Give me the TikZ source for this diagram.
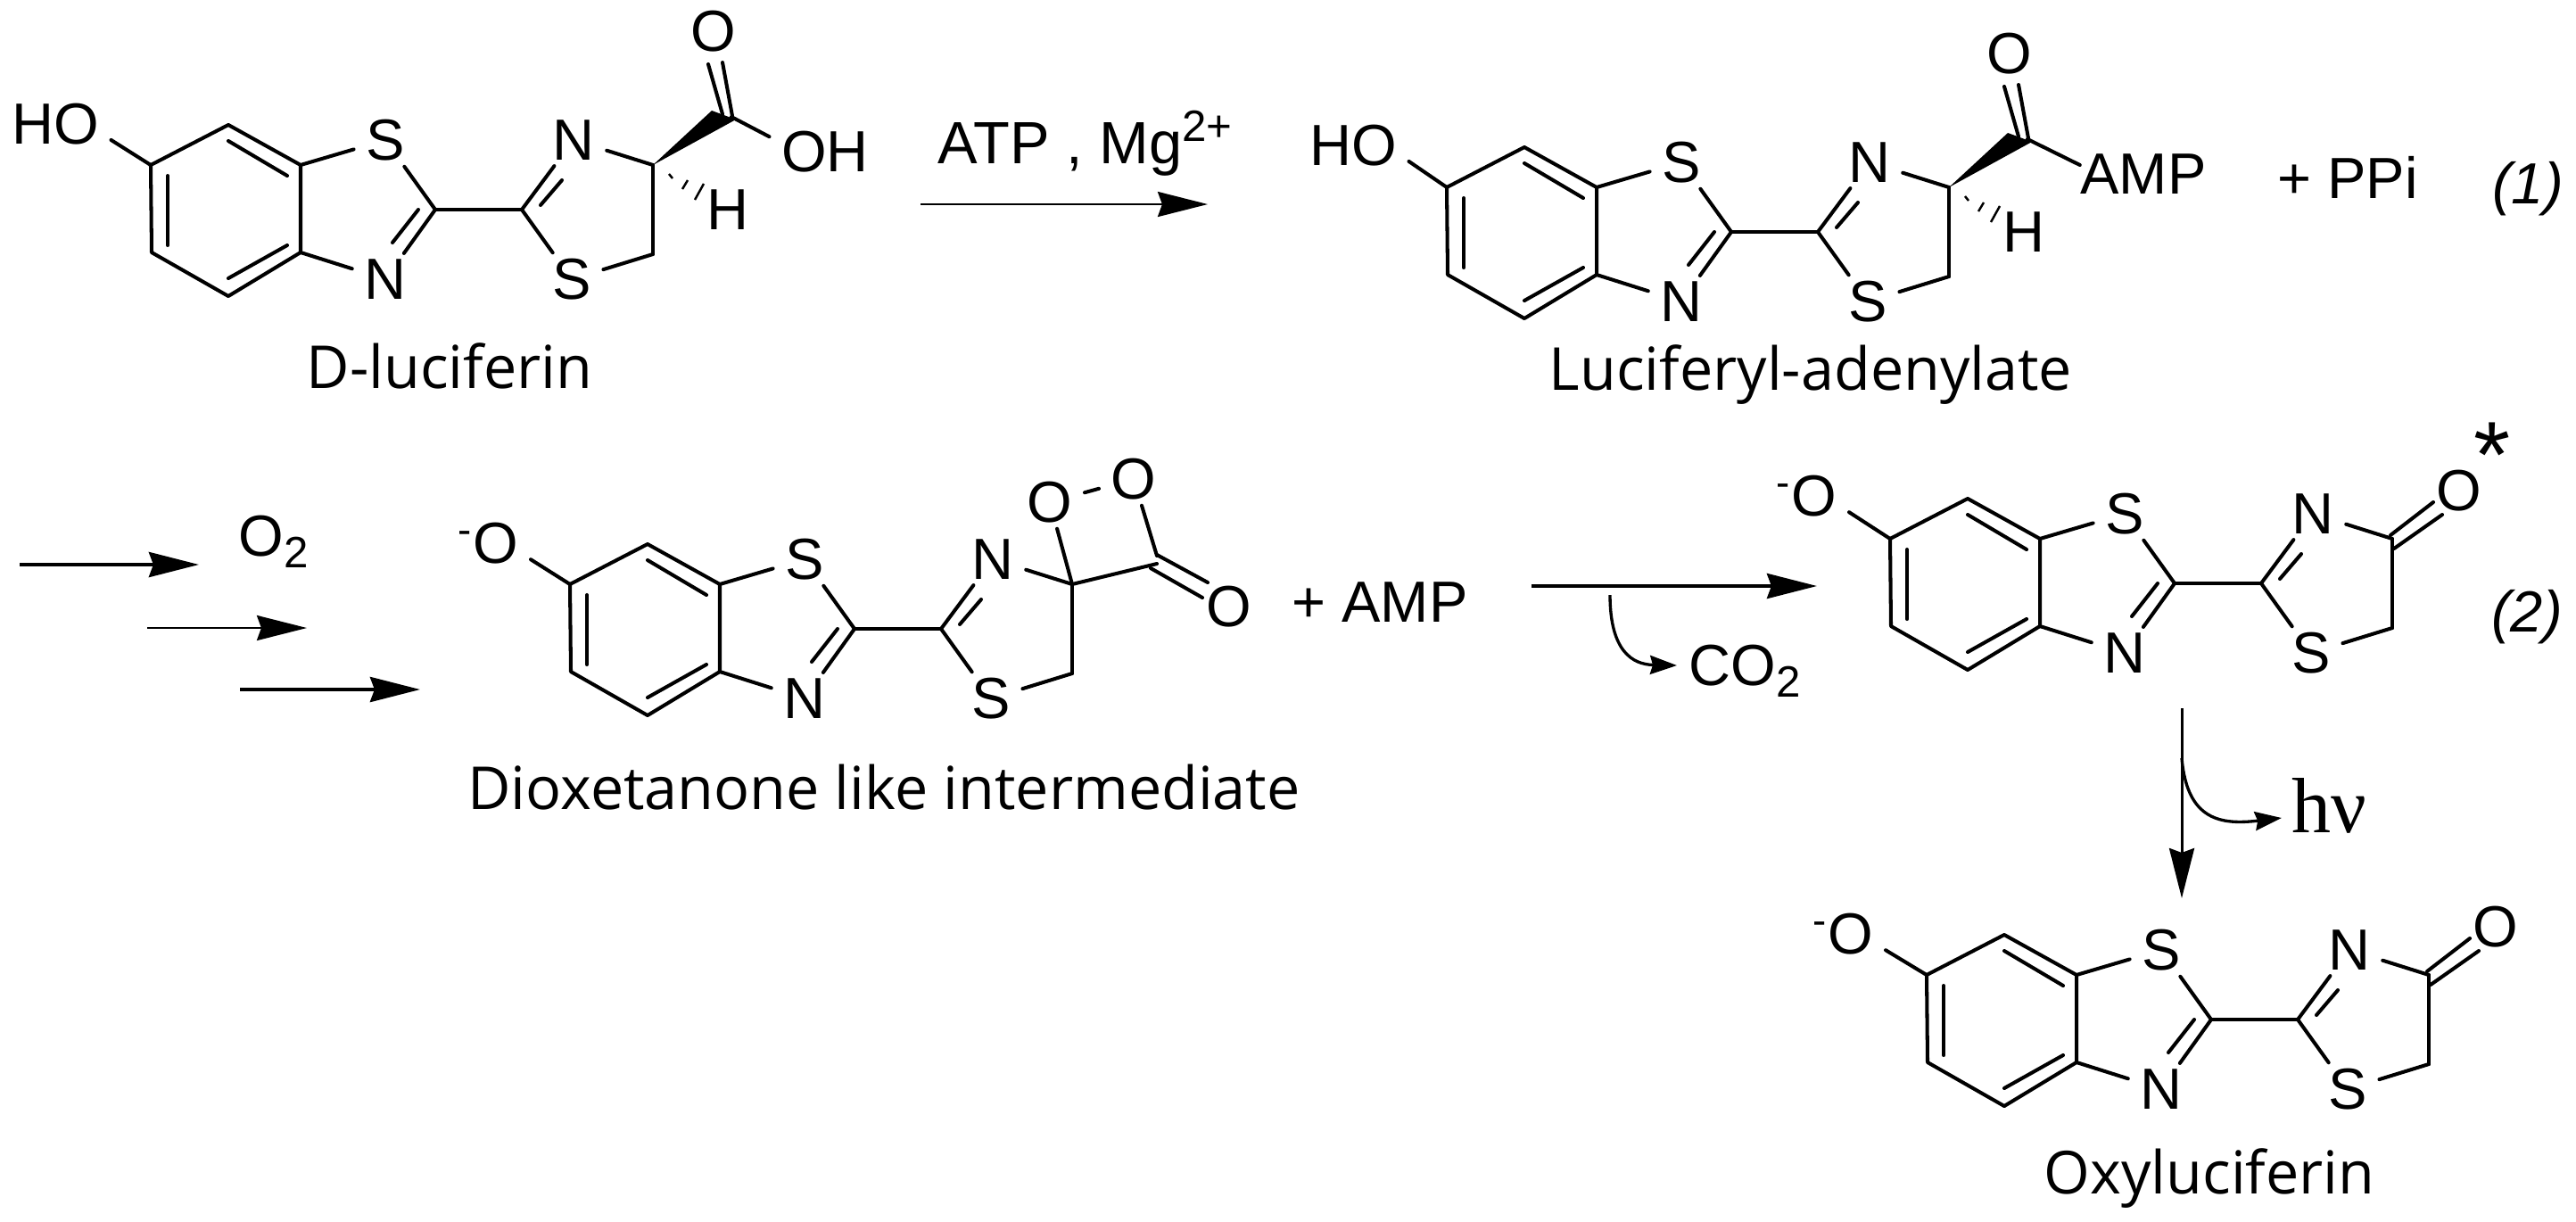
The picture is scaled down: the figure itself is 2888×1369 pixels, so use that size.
\documentclass[tikz,border=0pt]{standalone}
\usepackage{fontspec}
\setmainfont{Liberation Sans}
\newfontfamily\capfont{Open Sans}
\newfontfamily\serfont{Liberation Serif}
\usepackage{xcolor}
\usepackage{tikz}
\usetikzlibrary{calc}
\usetikzlibrary{arrows.meta}
\newcommand{\lowtwo}{\raisebox{-.21em}{\fontsize{14}{16}\selectfont 2}}
\tikzset{
	bondline/.style={line width=1.15pt,line cap=round,line join=round},
	hashline/.style={line width=.7pt},
	atom/.style={font=\fontsize{18.5}{22}\selectfont,inner xsep=.13cm,inner ysep=.06cm},
	plaintext/.style={font=\fontsize{18.5}{22}\selectfont,anchor=base,inner sep=0pt},
	capt/.style={font=\capfont\fontsize{18.9}{23}\selectfont,anchor=base,inner sep=0pt},
	thickarrow/.style={-{Stealth[length=.56cm,width=.28cm,inset=.05cm]},line width=1.15pt},
	thinarrow/.style={-{Stealth[length=.56cm,width=.28cm,inset=.05cm]},line width=.7pt},
	curvearrow/.style={-{Stealth[length=.3cm,width=.21cm,inset=.03cm]},line width=.95pt},
}
\newcommand{\lucicore}[3]{
	\begin{scope}[shift={(#1,#2)}]
		\coordinate (#3ca) at (169,185);
		\coordinate (#3cb) at (256,140);
		\coordinate (#3cc) at (337,185);
		\coordinate (#3cd) at (337,283);
		\coordinate (#3ce) at (256,332);
		\coordinate (#3cf) at (170,283);
		\coordinate (#3cg) at (488,235);
		\coordinate (#3ch) at (585,235);
		\coordinate (#3ci) at (732,185);
		\coordinate (#3cj) at (732,285);
		\node[atom] (#3sa) at (432,157) {S};
		\node[atom] (#3na) at (432,313) {N};
		\node[atom] (#3nb) at (643,157) {N};
		\node[atom] (#3sb) at (641,313) {S};
		\draw[bondline] (#3ca)--(#3cb)--(#3cc)--(#3cd)--(#3ce)--(#3cf)--cycle;
		\draw[bondline] (256,158)--(322,197);
		\draw[bondline] (188,197)--(188,275);
		\draw[bondline] (256,312)--(322,275);
		\draw[bondline] (#3cc)--(#3sa);
		\draw[bondline] (#3sa)--(#3cg);
		\draw[bondline] (#3cd)--(#3na);
		\draw[bondline] (#3cg)--(#3na);
		\draw[bondline] (469,235)--(440,272);
		\draw[bondline] (#3cg)--(#3ch);
		\draw[bondline] (#3ch)--(#3nb);
		\draw[bondline] (606,230)--(630,202);
		\draw[bondline] (#3ch)--(#3sb);
		\draw[bondline] (#3nb)--(#3ci);
		\draw[bondline] (#3ci)--(#3cj);
		\draw[bondline] (#3sb)--(#3cj);
	\end{scope}
}
\newcommand{\lucitail}[3]{
	\begin{scope}[shift={(#1,#2)}]
		\coordinate (#3ck) at (813,130);
		\node[atom] (#3oc) at (800,35) {O};
		\node[atom] (#3ha) at (816,235) {H};
		\fill[black] (#3ci)--(825,134)--(798,124)--cycle;
		\draw[bondline] (810,128)--(794,72);
		\draw[bondline] (821,130)--(810,70);
		\draw[hashline] (750,195)--(754,200);
		\draw[hashline] (771,202)--(765,212);
		\draw[hashline] (789,206)--(779,224);
	\end{scope}
}
\newcommand{\ketotail}[3]{
	\begin{scope}[shift={(#1,#2)}]
		\node[atom] (#3oc) at (807,131) {O};
		\draw[bondline] (730,181)--(778,144);
		\draw[bondline] (734,196)--(788,158);
	\end{scope}
}
\begin{document}
\begin{tikzpicture}[x=.01cm,y=-.01cm]
	\useasboundingbox (0,0) rectangle (2888,1369);
	
	\lucicore{0}{0}{a}
	\lucitail{0}{0}{a}
	\node[atom] (ho) at (62,139) {HO};
	\node[atom] (oh) at (925,170) {OH};
	\draw[bondline] (aca)--(ho.-16);
	\draw[bondline] (820,131)--(oh.165);
	\node[capt] (luc) at (504,435) {D-luciferin};
	
	\node[plaintext,anchor=base west,font=\fontsize{19}{22}\selectfont] (atp) at (1051,183) {ATP , Mg\raisebox{.37em}{\fontsize{14}{16}\selectfont 2+}};
	\coordinate (arrsa) at (1032,229);
	\coordinate (arrea) at (1354,229);
	\draw[thinarrow] (arrsa)--(arrea);
	
	\lucicore{1453}{25}{b}
	\lucitail{1453}{25}{b}
	\node[atom] (hob) at (1517,163) {HO};
	\node[atom,inner xsep=0pt] (amp) at (2403,195) {AMP};
	\draw[bondline] (bca)--(hob.-16);
	\draw[bondline] (2273,156)--(amp.172);
	\node[capt] (lad) at (2030,437) {Luciferyl-adenylate};
	\node[plaintext] (ppi) at (2632,222) {+ PPi};
	\node[plaintext] (eqa) at (2834,228) {\itshape (1)};
	
	\coordinate (arrsb) at (22,633);
	\coordinate (arreb) at (223,633);
	\coordinate (arrsc) at (165,704);
	\coordinate (arrec) at (344,704);
	\coordinate (arrsd) at (269,773);
	\coordinate (arred) at (471,773);
	\draw[thickarrow] (arrsb)--(arreb);
	\draw[thinarrow] (arrsc)--(arrec);
	\draw[thickarrow] (arrsd)--(arred);
	\node[plaintext,anchor=base west] (oxy) at (267,623) {O\lowtwo};
	
	\lucicore{470}{470}{c}
	\node[atom] (omc) at (556,609) {\llap{\textsuperscript{-}}O};
	\draw[bondline] (cca)--(omc.-25);
	\coordinate (cck) at (1297,632);
	\node[atom] (oca) at (1177,563) {O};
	\node[atom] (ocb) at (1271,537) {O};
	\node[atom] (occ) at (1378,680) {O};
	\draw[bondline] (cci)--(cck);
	\draw[bondline] (cci)--(oca);
	\draw[bondline] (oca)--(ocb);
	\draw[bondline] (1297,623)--(ocb);
	\draw[bondline] (1297,622)--(1354,653);
	\draw[bondline] (1290,637)--(1348,670);
	\node[capt] (dio) at (991,907) {Dioxetanone like intermediate};
	\node[plaintext] (ampb) at (1547,697) {+ AMP};
	
	\coordinate (arrse) at (1717,657);
	\coordinate (arree) at (2037,657);
	\draw[thickarrow] (arrse)--(arree);
	\coordinate (curvsa) at (1805,667);
	\coordinate (curvea) at (1880,746);
	\draw[curvearrow] (curvsa) .. controls (1805,730) and (1830,745) .. (curvea);
	\node[plaintext,anchor=base west] (cod) at (1893,768) {CO\lowtwo};
	
	\lucicore{1950}{419}{d}
	\ketotail{1950}{419}{d}
	\node[atom] (omd) at (2034,556) {\llap{\textsuperscript{-}}O};
	\draw[bondline] (dca)--(omd.-25);
	\node[plaintext,font=\fontsize{30}{34}\selectfont] (star) at (2794,546) {*};
	\node[plaintext] (eqb) at (2833,708) {\itshape (2)};
	
	\coordinate (arrsf) at (2446,794);
	\coordinate (arref) at (2446,1007);
	\draw[thinarrow,line width=.85pt] (arrsf)--(arref);
	\coordinate (curvsb) at (2446,850);
	\coordinate (curveb) at (2558,917);
	\draw[curvearrow] (curvsb) .. controls (2452,920) and (2490,925) .. (curveb);
	\node[plaintext,anchor=base west,font=\serfont\fontsize{25}{28}\selectfont] (hnu) at (2569,933) {hν};
	
	\lucicore{1991}{908}{e}
	\ketotail{1991}{908}{e}
	\node[atom] (ome) at (2075,1047) {\llap{\textsuperscript{-}}O};
	\draw[bondline] (eca)--(ome.-25);
	\node[capt] (oxl) at (2477,1338) {Oxyluciferin};
\end{tikzpicture}
\end{document}
